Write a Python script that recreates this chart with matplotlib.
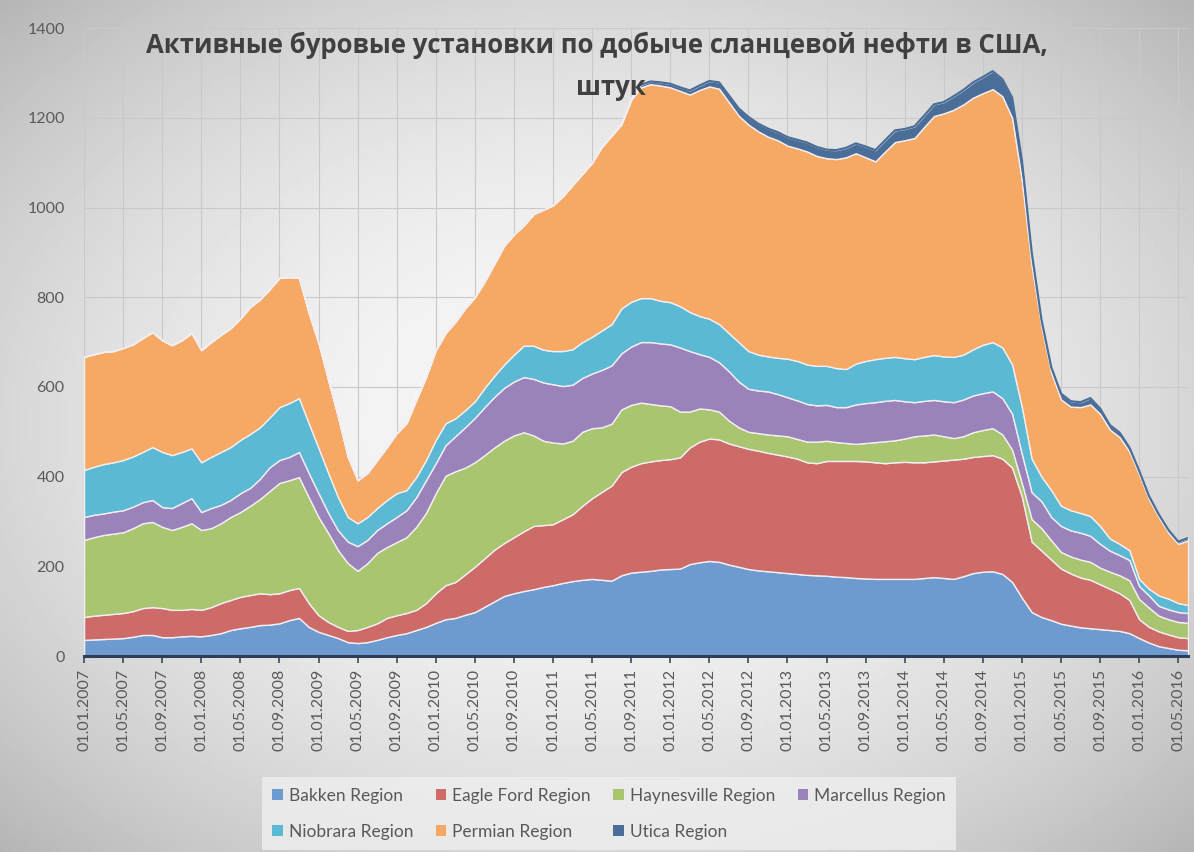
import matplotlib.pyplot as plt
import numpy as np
import pandas as pd
from matplotlib.patches import Patch

plt.rcParams['font.family'] = ['Lato', 'Open Sans', 'DejaVu Sans']

# monthly rig counts, Jan 2007 .. Jun 2016
months = pd.date_range('2007-01-01', periods=114, freq='MS')

bakken = [
    36, 37, 38, 39, 40, 43, 47, 47, 42, 42, 44, 45,
    44, 47, 51, 58, 62, 65, 69, 70, 73, 80, 85, 65,
    54, 47, 40, 31, 29, 31, 36, 42, 47, 51, 58, 65,
    74, 82, 85, 92, 98, 110, 122, 134, 140, 145, 149, 154,
    158, 163, 167, 170, 172, 170, 168, 180, 186, 188, 190, 193,
    194, 195, 205, 209, 212, 210, 204, 199, 194, 191, 189, 187,
    185, 183, 181, 180, 179, 177, 176, 174, 173, 172, 172, 172,
    172, 172, 174, 176, 174, 172, 178, 185, 188, 189, 183, 165,
    130, 98, 87, 80, 72, 68, 64, 62, 60, 58, 56, 51,
    40, 30, 22, 18, 14, 13,
]
eagle_ford = [
    51, 53, 54, 55, 56, 57, 60, 62, 65, 61, 59, 60,
    59, 62, 67, 67, 70, 71, 71, 68, 67, 67, 67, 53,
    37, 29, 25, 25, 29, 34, 37, 43, 44, 45, 45, 53,
    66, 76, 80, 90, 101, 108, 115, 118, 125, 133, 141, 138,
    136, 142, 149, 165, 180, 196, 212, 230, 236, 242, 244, 244,
    245, 248, 260, 269, 273, 273, 270, 269, 268, 267, 264, 262,
    260, 257, 251, 250, 256, 258, 259, 261, 261, 260, 258, 260,
    261, 260, 258, 258, 262, 266, 262, 259, 258, 259, 257, 255,
    225, 157, 148, 135, 123, 116, 111, 108, 100, 92, 84, 74,
    42, 35, 33, 30, 28, 27,
]
haynesville = [
    172, 175, 178, 179, 180, 185, 189, 190, 181, 178, 185, 191,
    178, 176, 178, 185, 189, 199, 210, 230, 246, 245, 247, 236,
    219, 198, 171, 151, 132, 142, 157, 158, 163, 169, 185, 201,
    223, 244, 247, 238, 233, 230, 228, 228, 227, 221, 202, 188,
    182, 169, 164, 165, 156, 144, 138, 140, 138, 135, 128, 122,
    118, 102, 80, 74, 65, 62, 51, 42, 38, 39, 41, 43,
    45, 44, 46, 48, 45, 42, 40, 38, 41, 45, 49, 49,
    52, 58, 60, 60, 54, 48, 50, 55, 58, 60, 54, 40,
    30, 50, 50, 43, 37, 38, 40, 40, 37, 38, 40, 44,
    45, 43, 35, 34, 34, 34,
]
marcellus = [
    51, 50, 48, 49, 49, 48, 47, 49, 44, 49, 53, 56,
    40, 45, 41, 38, 42, 40, 45, 53, 51, 52, 56, 54,
    53, 45, 44, 48, 55, 52, 51, 53, 56, 60, 66, 73,
    67, 68, 78, 90, 99, 107, 113, 118, 120, 123, 126, 130,
    130, 128, 125, 120, 122, 128, 130, 125, 130, 135, 138, 138,
    138, 143, 135, 121, 117, 110, 110, 102, 96, 95, 96, 92,
    87, 86, 84, 81, 80, 78, 80, 88, 89, 89, 90, 90,
    83, 76, 77, 77, 78, 80, 82, 82, 82, 82, 81, 80,
    65, 60, 60, 52, 58, 58, 60, 58, 53, 47, 45, 45,
    29, 27, 22, 22, 22, 22,
]
niobrara = [
    105, 107, 110, 110, 112, 112, 112, 118, 123, 118, 114, 111,
    111, 114, 118, 118, 119, 120, 115, 111, 118, 120, 120, 111,
    101, 89, 74, 55, 51, 51, 49, 52, 53, 45, 45, 45,
    52, 49, 40, 38, 37, 43, 47, 52, 60, 70, 74, 73,
    74, 78, 79, 80, 82, 88, 92, 100, 100, 98, 98, 95,
    94, 92, 87, 85, 85, 85, 85, 88, 84, 80, 78, 81,
    86, 88, 88, 88, 87, 87, 85, 91, 94, 96, 96, 96,
    96, 96, 98, 100, 100, 101, 100, 103, 108, 110, 113, 110,
    105, 75, 55, 60, 45, 45, 44, 44, 40, 27, 25, 22,
    16, 15, 23, 24, 20, 18,
]
permian = [
    252, 251, 250, 248, 250, 250, 254, 256, 249, 245, 249, 257,
    250, 256, 261, 265, 271, 283, 285, 286, 288, 281, 268, 246,
    234, 207, 179, 134, 96, 98, 107, 118, 134, 149, 172, 185,
    200, 201, 215, 227, 232, 237, 250, 265, 268, 268, 293, 312,
    325, 345, 366, 375, 388, 409, 420, 410, 450, 470, 477, 480,
    479, 480, 485, 504, 518, 525, 515, 505, 505, 498, 490, 485,
    475, 474, 475, 468, 463, 466, 472, 469, 454, 441, 460, 479,
    486, 493, 513, 533, 542, 551, 558, 561, 561, 564, 560, 550,
    505, 430, 335, 262, 237, 231, 236, 249, 250, 243, 238, 220,
    233, 200, 175, 147, 132, 144,
]
utica = [
    0, 0, 0, 0, 0, 0, 0, 0, 0, 0, 0, 0,
    0, 0, 0, 0, 0, 0, 0, 0, 0, 0, 0, 0,
    0, 0, 0, 0, 0, 0, 0, 0, 0, 0, 0, 0,
    0, 0, 0, 0, 0, 0, 0, 0, 0, 0, 0, 0,
    0, 0, 0, 0, 0, 2, 3, 4, 5, 6, 6, 7,
    8, 8, 9, 10, 12, 14, 15, 16, 17, 17, 18, 18,
    19, 19, 20, 20, 19, 20, 21, 22, 24, 25, 25, 26,
    25, 26, 25, 26, 25, 30, 32, 34, 36, 40, 38, 45,
    45, 30, 15, 12, 13, 12, 11, 14, 12, 10, 10, 9,
    8, 7, 6, 6, 5, 5,
]

names = ['Bakken Region', 'Eagle Ford Region', 'Haynesville Region',
         'Marcellus Region', 'Niobrara Region', 'Permian Region', 'Utica Region']
colors = ['#6e9bcf', '#cd6b69', '#a9c56f', '#9a83bb', '#5bb9d3', '#f5a965', '#4b6e98']
series = [bakken, eagle_ford, haynesville, marcellus, niobrara, permian, utica]

x = np.arange(len(months))
tick_pos = x[::4]
tick_labels = months[::4].strftime('%d.%m.%Y')

fig = plt.figure(figsize=(11.94, 8.52), dpi=100)

# soft grey radial backdrop
bg = fig.add_axes([0, 0, 1, 1], zorder=-10)
gx, gy = np.meshgrid(np.linspace(-1, 1, 300), np.linspace(-1, 1, 220))
shade = 0.97 - 0.13 * (gx ** 2 + gy ** 2)
bg.imshow(shade, cmap='gray', vmin=0, vmax=1, aspect='auto', extent=[0, 1, 0, 1])
bg.axis('off')

ax = fig.add_axes([0.0704, 0.230, 0.9246, 0.737])
ax.set_facecolor('none')

ax.stackplot(x, *series, colors=colors, edgecolor='#f3eef2', linewidth=1.0, zorder=3)
# dark rim along the Utica layer once it becomes visible
total = np.sum(series, axis=0)
ax.plot(x[57:], total[57:], color='#4b6e98', lw=1.6, zorder=4)

ax.set_xlim(0, len(x) - 1)
ax.set_ylim(0, 1400)
ax.set_yticks(np.arange(0, 1401, 200))
ax.set_xticks(tick_pos)
ax.set_xticklabels(tick_labels, rotation=90, fontsize=11.5, color='#595959')
ax.tick_params(axis='y', length=0, labelsize=11.5, labelcolor='#595959', pad=14)
ax.tick_params(axis='x', length=5, width=1.2, color='#3a4a60', direction='out', pad=4)

ax.grid(True, color='#c9c9c9', lw=0.8, zorder=0)
ax.set_axisbelow(True)
for s in ['top', 'right', 'left']:
    ax.spines[s].set_visible(False)
ax.spines['bottom'].set_color('#2e3e55')
ax.spines['bottom'].set_linewidth(2.2)
ax.spines['bottom'].set_zorder(5)

fig.text(0.5, 0.947, 'Активные буровые установки по добыче сланцевой нефти в США,',
         ha='center', va='center', fontsize=18.5, fontweight='bold', color='#404040',
         family=['Open Sans', 'DejaVu Sans'])
fig.text(0.512, 0.897, 'штук', ha='center', va='center', fontsize=18.5,
         fontweight='bold', color='#404040', family=['Open Sans', 'DejaVu Sans'])

# row-major order for a 4-column legend
order = [0, 4, 1, 5, 2, 6, 3]
handles = [Patch(facecolor=colors[i], edgecolor='none') for i in order]
labels = [names[i] for i in order]
leg = fig.legend(handles, labels, ncol=4, loc='lower left',
                 bbox_to_anchor=(253 / 1194, -0.008, (965 - 253) / 1194, 0.095),
                 mode='expand', fontsize=12.5, frameon=True, fancybox=False,
                 handlelength=0.6, handleheight=0.6, handletextpad=0.35,
                 columnspacing=0.6, labelspacing=1.15, borderpad=0.6)
leg.get_frame().set_facecolor('#efefef')
leg.get_frame().set_edgecolor('none')
for t in leg.get_texts():
    t.set_color('#595959')

fig.savefig('out.png', dpi=100)
